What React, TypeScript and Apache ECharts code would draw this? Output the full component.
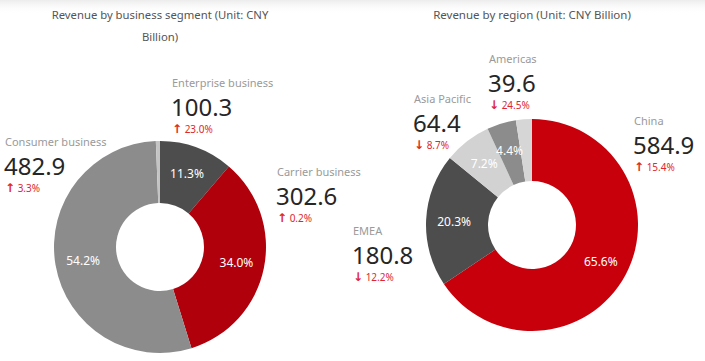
import React, { useEffect, useRef } from "react";
import * as echarts from "echarts";

const segmentNames = ["Enterprise business", "Carrier business", "Consumer business", "Other"];
const segmentValues = [100.3, 302.6, 482.9, 5.6];
const segmentShares = ["11.3", "34.0", "54.2", ""];
const segmentChanges = ["↑ 23.0%", "↑ 0.2%", "↑ 3.3%", ""];

const regionNames = ["China", "EMEA", "Asia Pacific", "Americas", "Other"];
const regionValues = [584.9, 180.8, 64.4, 39.6, 21.7];
const regionShares = ["65.6", "20.3", "7.2", "4.4", ""];
const regionChanges = ["↑ 15.4%", "↓ 12.2%", "↓ 8.7%", "↓ 24.5%", ""];

const segmentTitle = "Revenue by business segment (Unit: CNY\nBillion)";
const regionTitle = "Revenue by region (Unit: CNY Billion)";

const FONT = "'Noto Sans', 'Open Sans', sans-serif";

const segmentColors = ["#4d4d4d", "#b0000b", "#8c8c8c", "#c4c4c4"];
const regionColors = ["#c7000b", "#4d4d4d", "#d2d2d2", "#8c8c8c", "#d6d6d6"];

// annotation anchor positions (layout), index-matched to the data arrays
const segmentPos: [number, number][] = [[172, 84], [277, 173], [5, 143]];
const regionPos: [number, number][] = [[634, 122], [353, 232], [414, 100], [489, 60]];

function annotation(name: string, value: number, change: string, pos: [number, number]) {
  const [x, y] = pos;
  const arrow = change.charAt(0);
  const rest = change.slice(1);
  return [
    { type: "text", x, y: y - 1.5, style: { text: name, fill: "#9a9a9a", font: `11px ${FONT}`, textVerticalAlign: "middle" } },
    { type: "text", x: x - 1, y: y + 22, style: { text: value.toFixed(1), fill: "#262626", font: `24px ${FONT}`, textVerticalAlign: "middle" } },
    {
      type: "text",
      x,
      y: y + 45,
      style: {
        text: `{a|${arrow}}{b|${rest}}`,
        textVerticalAlign: "middle",
        rich: {
          a: { fill: "#e0262e", fontSize: 12, fontWeight: "bold", fontFamily: "'DejaVu Sans', sans-serif", verticalAlign: "middle" },
          b: { fill: "#e0262e", fontSize: 10, fontFamily: FONT, verticalAlign: "middle" },
        },
      },
    },
  ];
}

export default function App() {
  const ref = useRef<HTMLDivElement>(null);
  useEffect(() => {
    document.body.style.margin = "0";
    const chart = echarts.init(ref.current!, undefined, { renderer: "svg" });
    const pieBase = {
      type: "pie",
      radius: [44, 106],
      startAngle: 90,
      clockwise: true,
      avoidLabelOverlap: false,
      silent: true,
      emphasis: { disabled: true },
      labelLine: { show: false },
      label: {
        show: true,
        position: "inside",
        color: "#ffffff",
        fontSize: 12,
        fontFamily: FONT,
        textBorderWidth: 0,
      },
    };
    const graphics: any[] = [
      {
        type: "rect",
        shape: { x: 0, y: 0, width: 705, height: 14 },
        style: {
          fill: new echarts.graphic.LinearGradient(0, 0, 0, 1, [
            { offset: 0, color: "#ececec" },
            { offset: 1, color: "rgba(255,255,255,0)" },
          ]),
        },
        silent: true,
      },
      {
        type: "text",
        x: 160,
        y: 3,
        style: { text: segmentTitle, fill: "#555555", font: `11.3px ${FONT}`, textAlign: "center", textVerticalAlign: "top", lineHeight: 22 },
      },
      {
        type: "text",
        x: 532,
        y: 3,
        style: { text: regionTitle, fill: "#555555", font: `11.5px ${FONT}`, textAlign: "center", textVerticalAlign: "top", lineHeight: 22 },
      },
    ];
    segmentPos.forEach((p, i) => graphics.push(...annotation(segmentNames[i], segmentValues[i], segmentChanges[i], p)));
    regionPos.forEach((p, i) => graphics.push(...annotation(regionNames[i], regionValues[i], regionChanges[i], p)));

    chart.setOption({
      animation: false,
      backgroundColor: "#ffffff",
      series: [
        {
          ...pieBase,
          center: [160, 247],
          data: segmentNames.map((n, i) => ({
            name: n,
            value: segmentValues[i],
            itemStyle: { color: segmentColors[i] },
            label: { show: segmentShares[i] !== "" },
          })),
          label: { ...pieBase.label, formatter: (p: any) => segmentShares[p.dataIndex] + "%" },
        },
        {
          ...pieBase,
          center: [532, 225],
          data: regionNames.map((n, i) => ({
            name: n,
            value: regionValues[i],
            itemStyle: { color: regionColors[i] },
            label: { show: regionShares[i] !== "" },
          })),
          label: { ...pieBase.label, formatter: (p: any) => regionShares[p.dataIndex] + "%" },
        },
      ],
      graphic: graphics,
    });
    return () => chart.dispose();
  }, []);
  return <div ref={ref} style={{ width: 705, height: 361 }} />;
}
